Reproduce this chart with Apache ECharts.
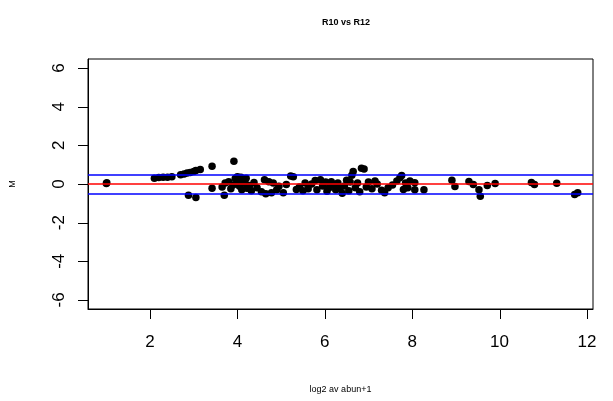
<!DOCTYPE html>
<html>
<head>
    <meta charset="utf-8">
    <title>R10 vs R12</title>
    <script src="https://cdn.jsdelivr.net/npm/echarts@6.0.0/dist/echarts.min.js"></script>
</head>
<body style="margin:0;background:#fff;">
<div id="main" style="width:613px;height:401px;"></div>
<script type="text/javascript">
// x = log2 av abun+1, y = M
var abun = [1.0, 1.01, 2.1, 2.2, 2.3, 2.4, 2.5, 2.7, 2.78, 2.85, 2.92, 3.0, 3.05, 3.15, 2.88, 3.05,
  3.42, 3.42, 3.92, 3.65, 3.7, 3.72, 3.8, 3.85, 3.9, 3.95, 4.0, 4.02, 4.05, 4.08, 4.1, 4.12, 4.18, 4.2,
  4.22, 4.28, 4.32, 4.38, 4.45, 4.55, 4.62, 4.65, 4.72, 4.78, 4.82, 4.9, 4.95, 5.05, 5.12,
  5.22, 5.28, 5.35, 5.42, 5.5, 5.55, 5.62, 5.7, 5.78, 5.82, 5.9, 5.95, 6.02, 6.05, 6.1, 6.15, 6.2,
  6.25, 6.3, 6.35, 6.4, 6.45, 6.5, 6.55, 6.58, 6.62, 6.65, 6.7, 6.75, 6.8, 6.84, 6.9, 6.95, 7.0,
  7.08, 7.15, 7.2, 7.3, 7.37, 7.45, 7.55, 7.65, 7.72, 7.76, 7.8, 7.85, 7.9, 7.95, 8.06, 8.06, 8.27,
  8.91, 8.98, 9.3, 9.4, 9.53, 9.56, 9.72, 9.9, 10.73, 10.8, 11.31, 11.72, 11.79];
var mVals = [0.03, 0.07, 0.3, 0.33, 0.35, 0.35, 0.38, 0.48, 0.52, 0.57, 0.6, 0.65, 0.7, 0.75, -0.58, -0.7,
  0.92, -0.22, 1.18, -0.15, -0.58, 0.05, 0.12, -0.25, -0.05, 0.28, 0.38, 0.12, -0.12, 0.35, -0.3, 0.2, 0.02, 0.3,
  -0.22, -0.08, -0.35, 0.08, -0.2, -0.4, 0.22, -0.5, 0.12, -0.45, 0.05, -0.3, -0.12, -0.45, -0.02,
  0.42, 0.38, -0.28, -0.15, -0.35, 0.05, -0.25, 0.0, 0.18, -0.3, 0.22, -0.1, 0.1, -0.38, -0.2, 0.12, -0.05,
  -0.3, 0.05, -0.25, -0.48, -0.1, 0.2, -0.35, 0.1, 0.45, 0.65, -0.2, 0.05, -0.4, 0.82, 0.78, -0.15, 0.1,
  -0.25, 0.15, 0.0, -0.32, -0.45, -0.2, -0.05, 0.15, 0.32, 0.44, -0.28, 0.05, -0.2, 0.15, 0.07, -0.3, -0.3,
  0.2, -0.13, 0.13, -0.03, -0.3, -0.64, -0.08, 0.03, 0.08, -0.03, 0.04, -0.54, -0.45];
var xTicks = [2, 4, 6, 8, 10, 12];
var yTicks = [-6, -4, -2, 0, 2, 4, 6];
var midLine = 0;
var bandLines = [-0.5, 0.5];

var pts = [];
for (var i = 0; i < abun.length; i++) {
  pts.push([abun[i], mVals[i]]);
}

var myChart = echarts.init(document.getElementById('main'));
var font = 'Liberation Sans';
var tickLen = 10;

var option = {
  animation: false,
  title: {
    text: 'R10 vs R12',
    left: 341,
    top: 13,
    textAlign: 'center',
    textStyle: { fontSize: 9, fontWeight: 'bold', color: '#000', fontFamily: font }
  },
  grid: {
    left: 88, right: 20, top: 59, bottom: 92,
    show: true, borderColor: '#000', borderWidth: 1, backgroundColor: 'transparent'
  },
  xAxis: {
    type: 'value',
    min: 0.58, max: 12.14,
    name: 'log2 av abun+1',
    nameLocation: 'middle',
    nameGap: 76,
    nameTextStyle: { fontSize: 9, color: '#000', fontFamily: font },
    splitLine: { show: false },
    axisLine: { show: true, onZero: false, lineStyle: { color: '#000', width: 1 } },
    axisTick: { show: false },
    axisLabel: { customValues: xTicks, fontSize: 17, margin: 25, color: '#000', fontFamily: font }
  },
  yAxis: {
    type: 'value',
    min: -6.47, max: 6.47,
    name: 'M',
    nameLocation: 'middle',
    nameGap: 71,
    nameRotate: 90,
    nameTextStyle: { fontSize: 9, color: '#000', fontFamily: font },
    splitLine: { show: false },
    axisLine: { show: true, onZero: false, lineStyle: { color: '#000', width: 1 } },
    axisTick: { show: false },
    axisLabel: { customValues: yTicks, rotate: 90, fontSize: 17, margin: 20, color: '#000', fontFamily: font }
  },
  series: [
    {
      type: 'scatter',
      data: pts,
      symbolSize: 7.5,
      itemStyle: { color: '#000', opacity: 1 },
      markLine: {
        silent: true,
        symbol: 'none',
        label: { show: false },
        animation: false,
        data: [
          { yAxis: midLine, lineStyle: { color: '#ff0000', width: 1.5, type: 'solid' } },
          { yAxis: bandLines[0], lineStyle: { color: '#0000ff', width: 1.5, type: 'solid' } },
          { yAxis: bandLines[1], lineStyle: { color: '#0000ff', width: 1.5, type: 'solid' } }
        ]
      }
    }
  ]
};

myChart.setOption(option);

// tick marks drawn outside the box, placed via the axis scales
var ticks = [];
var x0 = myChart.convertToPixel({ xAxisIndex: 0 }, 0.58);
var yBottom = myChart.convertToPixel({ yAxisIndex: 0 }, -6.47);
xTicks.forEach(function (v) {
  var px = Math.round(myChart.convertToPixel({ xAxisIndex: 0 }, v)) + 0.5;
  ticks.push({ type: 'line', shape: { x1: px, y1: yBottom, x2: px, y2: yBottom + tickLen },
    style: { stroke: '#000', lineWidth: 1 }, silent: true });
});
yTicks.forEach(function (v) {
  var py = Math.round(myChart.convertToPixel({ yAxisIndex: 0 }, v)) + 0.5;
  ticks.push({ type: 'line', shape: { x1: x0 - tickLen, y1: py, x2: x0, y2: py },
    style: { stroke: '#000', lineWidth: 1 }, silent: true });
});
myChart.setOption({ graphic: ticks });
</script>
</body>
</html>
